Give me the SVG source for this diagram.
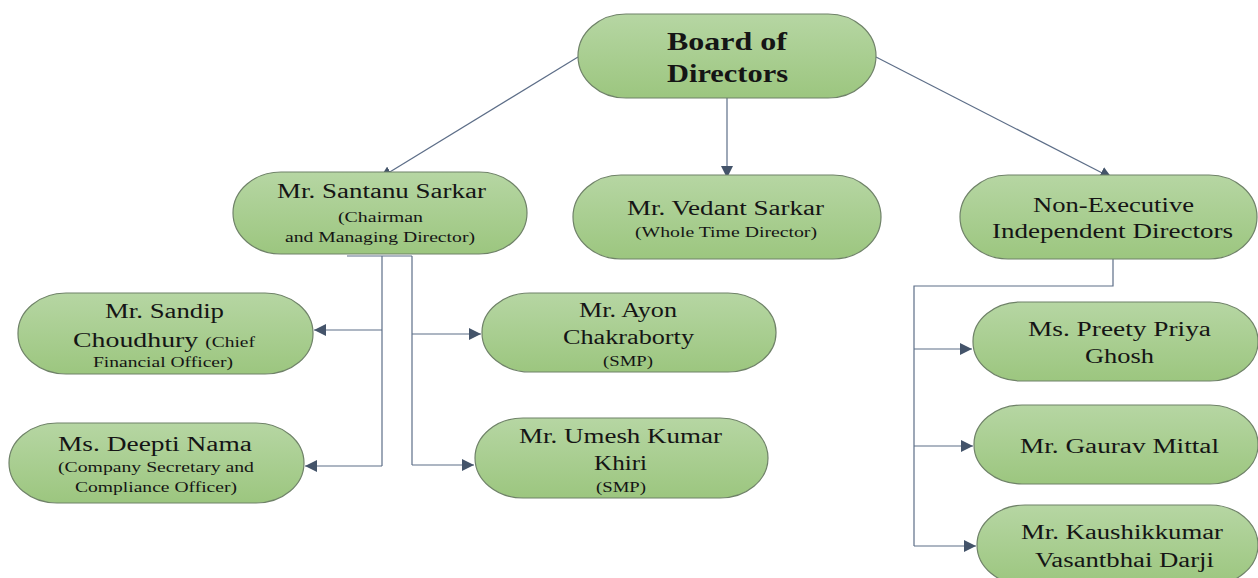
<svg xmlns="http://www.w3.org/2000/svg" width="1258" height="578" viewBox="0 0 1258 578">
<defs>
<linearGradient id="g" x1="0" y1="0" x2="0" y2="1">
<stop offset="0" stop-color="#b6d6a3"/>
<stop offset="1" stop-color="#9cc67f"/>
</linearGradient>
<marker id="ah" markerUnits="userSpaceOnUse" markerWidth="12" markerHeight="12" refX="10" refY="5" orient="auto" viewBox="0 0 10 10">
<path d="M0,0 L10,5 L0,10 z" fill="#44546a"/>
</marker>
<style>
.box{fill:url(#g);stroke:#6f8268;stroke-width:1.2}
.c{fill:none;stroke:#5d6e88;stroke-width:1.2}
.a{marker-end:url(#ah)}
text{font-family:'Liberation Serif','Times New Roman',serif;fill:#151515}
.b{font-size:26px;font-weight:bold}
.m{font-size:20px}
.s{font-size:14px}
</style>
</defs>
<rect width="1258" height="578" fill="#fff"/>
<g id="connectors">
<line class="c a" x1="578" y1="57" x2="380" y2="178"/>
<line class="c a" x1="727" y1="98" x2="727" y2="178"/>
<line class="c a" x1="876" y1="57" x2="1112" y2="178"/>
<polyline class="c" points="347,256 412,256"/>
<line class="c" x1="382" y1="256" x2="382" y2="466"/>
<line class="c" x1="412" y1="256" x2="412" y2="465"/>
<line class="c a" x1="382" y1="330" x2="314" y2="330"/>
<line class="c a" x1="382" y1="466" x2="305" y2="466"/>
<line class="c a" x1="412" y1="334" x2="481" y2="334"/>
<line class="c a" x1="412" y1="465" x2="474" y2="465"/>
<polyline class="c" points="1113,259 1113,286 914,286 914,546"/>
<line class="c a" x1="914" y1="349" x2="972" y2="349"/>
<line class="c a" x1="914" y1="446" x2="973" y2="446"/>
<line class="c a" x1="914" y1="546" x2="976" y2="546"/>
</g>
<g id="board">
<rect class="box" x="578" y="14" width="298" height="84" rx="48" ry="42"/>
<text class="b" x="667" y="50" textLength="120" lengthAdjust="spacingAndGlyphs">Board of</text>
<text class="b" x="667" y="82" textLength="121" lengthAdjust="spacingAndGlyphs">Directors</text>
</g>
<g id="santanu">
<rect class="box" x="233" y="172" width="294" height="82" rx="48" ry="41"/>
<text class="m" x="277" y="198" textLength="209" lengthAdjust="spacingAndGlyphs">Mr. Santanu  Sarkar</text>
<text class="s" x="338" y="222" textLength="85" lengthAdjust="spacingAndGlyphs">(Chairman</text>
<text class="s" x="285" y="242" textLength="190" lengthAdjust="spacingAndGlyphs">and Managing Director)</text>
</g>
<g id="vedant">
<rect class="box" x="573" y="175" width="308" height="84" rx="48" ry="42"/>
<text class="m" x="627" y="215" textLength="197" lengthAdjust="spacingAndGlyphs">Mr. Vedant  Sarkar</text>
<text class="s" x="635" y="237" textLength="182" lengthAdjust="spacingAndGlyphs">(Whole Time Director)</text>
</g>
<g id="nonexec">
<rect class="box" x="960" y="175" width="297" height="84" rx="48" ry="42"/>
<text class="m" x="1033" y="212" textLength="161" lengthAdjust="spacingAndGlyphs">Non-Executive</text>
<text class="m" x="992" y="238" textLength="241" lengthAdjust="spacingAndGlyphs">Independent  Directors</text>
</g>
<g id="sandip">
<rect class="box" x="18" y="293" width="295" height="81" rx="48" ry="40"/>
<text class="m" x="105" y="318" textLength="119" lengthAdjust="spacingAndGlyphs">Mr. Sandip</text>
<text x="73" y="347" textLength="182" lengthAdjust="spacingAndGlyphs"><tspan class="m">Choudhury </tspan><tspan class="s">(Chief</tspan></text>
<text class="s" x="93" y="367" textLength="140" lengthAdjust="spacingAndGlyphs">Financial Officer)</text>
</g>
<g id="deepti">
<rect class="box" x="9" y="423" width="295" height="80" rx="48" ry="40"/>
<text class="m" x="58" y="451" textLength="194" lengthAdjust="spacingAndGlyphs">Ms. Deepti Nama</text>
<text class="s" x="58" y="472" textLength="196" lengthAdjust="spacingAndGlyphs">(Company Secretary  and</text>
<text class="s" x="75" y="492" textLength="162" lengthAdjust="spacingAndGlyphs">Compliance Officer)</text>
</g>
<g id="ayon">
<rect class="box" x="482" y="293" width="294" height="79" rx="48" ry="39"/>
<text class="m" x="579" y="317" textLength="98" lengthAdjust="spacingAndGlyphs">Mr. Ayon</text>
<text class="m" x="563" y="344" textLength="131" lengthAdjust="spacingAndGlyphs">Chakraborty</text>
<text class="s" x="603" y="366" textLength="50" lengthAdjust="spacingAndGlyphs">(SMP)</text>
</g>
<g id="umesh">
<rect class="box" x="475" y="418" width="293" height="80" rx="48" ry="40"/>
<text class="m" x="519" y="443" textLength="203" lengthAdjust="spacingAndGlyphs">Mr. Umesh Kumar</text>
<text class="m" x="594" y="470" textLength="53" lengthAdjust="spacingAndGlyphs">Khiri</text>
<text class="s" x="596" y="492" textLength="50" lengthAdjust="spacingAndGlyphs">(SMP)</text>
</g>
<g id="preety">
<rect class="box" x="973" y="302" width="285" height="79" rx="48" ry="39"/>
<text class="m" x="1028" y="336" textLength="183" lengthAdjust="spacingAndGlyphs">Ms. Preety Priya</text>
<text class="m" x="1085" y="363" textLength="69" lengthAdjust="spacingAndGlyphs">Ghosh</text>
</g>
<g id="gaurav">
<rect class="box" x="974" y="405" width="284" height="79" rx="48" ry="39"/>
<text class="m" x="1020" y="453" textLength="199" lengthAdjust="spacingAndGlyphs">Mr. Gaurav  Mittal</text>
</g>
<g id="kaushik">
<rect class="box" x="977" y="505" width="281" height="80" rx="48" ry="40"/>
<text class="m" x="1021" y="539" textLength="202" lengthAdjust="spacingAndGlyphs">Mr. Kaushikkumar</text>
<text class="m" x="1035" y="567" textLength="179" lengthAdjust="spacingAndGlyphs">Vasantbhai  Darji</text>
</g>
</svg>
